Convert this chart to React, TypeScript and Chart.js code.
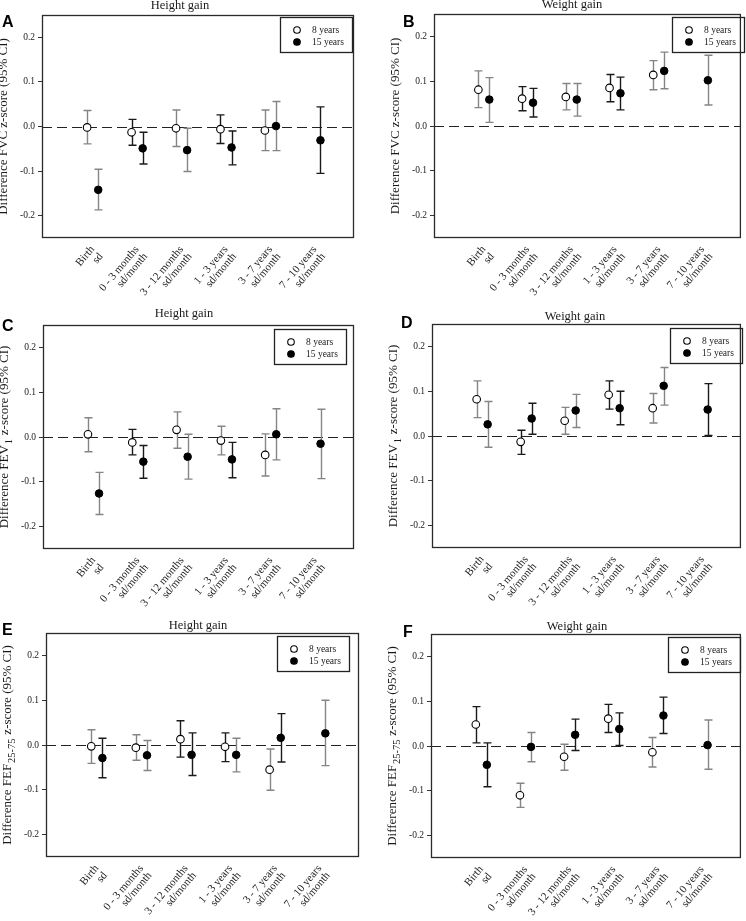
import React, { useEffect, useRef } from "react";
import { Chart, registerables } from "chart.js";
Chart.register(...registerables);

// ---------- DATA ----------
const categories: string[][] = [
  ["Birth", "sd"],
  ["0 - 3 months", "sd/month"],
  ["3 - 12 months", "sd/month"],
  ["1 - 3 years", "sd/month"],
  ["3 - 7 years", "sd/month"],
  ["7 - 10 years", "sd/month"],
];
const yTicks = [-0.2, -0.1, 0.0, 0.1, 0.2];
const seriesNames = ["8 years", "15 years"];

// [estimate, lower 95% CI, upper 95% CI]
type CI = [number, number, number] | null;

const fvcHeight8: CI[] = [[-0.002, -0.039, 0.036], [-0.013, -0.042, 0.016], [-0.004, -0.045, 0.037], [-0.006, -0.038, 0.026], [-0.009, -0.054, 0.037], null];
const fvcHeight15: CI[] = [[-0.142, -0.187, -0.096], [-0.049, -0.084, -0.013], [-0.053, -0.101, -0.004], [-0.047, -0.086, -0.01], [0.001, -0.054, 0.056], [-0.031, -0.105, 0.044]];

const fvcWeight8: CI[] = [[0.081, 0.041, 0.123], [0.061, 0.034, 0.088], [0.065, 0.036, 0.095], [0.085, 0.054, 0.115], [0.114, 0.081, 0.146], null];
const fvcWeight15: CI[] = [[0.059, 0.008, 0.108], [0.052, 0.02, 0.084], [0.059, 0.022, 0.095], [0.073, 0.036, 0.109], [0.123, 0.083, 0.165], [0.102, 0.047, 0.158]];

const fev1Height8: CI[] = [[0.006, -0.033, 0.043], [-0.012, -0.04, 0.017], [0.016, -0.025, 0.056], [-0.008, -0.04, 0.024], [-0.04, -0.087, 0.007], null];
const fev1Height15: CI[] = [[-0.126, -0.173, -0.079], [-0.055, -0.092, -0.019], [-0.044, -0.094, 0.006], [-0.05, -0.091, -0.012], [0.006, -0.051, 0.063], [-0.015, -0.093, 0.062]];

const fev1Weight8: CI[] = [[0.082, 0.041, 0.123], [-0.013, -0.041, 0.013], [0.034, 0.004, 0.064], [0.092, 0.06, 0.123], [0.062, 0.029, 0.095], null];
const fev1Weight15: CI[] = [[0.026, -0.025, 0.077], [0.039, 0.004, 0.073], [0.057, 0.019, 0.093], [0.062, 0.025, 0.1], [0.112, 0.069, 0.153], [0.059, 0.001, 0.117]];

const fefHeight8: CI[] = [[-0.003, -0.041, 0.034], [-0.006, -0.034, 0.023], [0.013, -0.027, 0.054], [-0.004, -0.037, 0.027], [-0.055, -0.101, -0.009], null];
const fefHeight15: CI[] = [[-0.029, -0.073, 0.015], [-0.023, -0.057, 0.01], [-0.022, -0.068, 0.027], [-0.022, -0.06, 0.015], [0.016, -0.038, 0.07], [0.026, -0.046, 0.1]];

const fefWeight8: CI[] = [[0.048, 0.007, 0.088], [-0.11, -0.137, -0.083], [-0.024, -0.054, 0.004], [0.061, 0.03, 0.093], [-0.014, -0.047, 0.019], null];
const fefWeight15: CI[] = [[-0.042, -0.091, 0.007], [-0.002, -0.035, 0.03], [0.025, -0.01, 0.06], [0.038, 0.001, 0.074], [0.068, 0.028, 0.109], [0.002, -0.052, 0.058]];

// y-axis titles: [text, isSubscript]
const yTitleFVC: [string, boolean][] = [["Difference FVC z-score (95% CI)", false]];
const yTitleFEV1: [string, boolean][] = [["Difference FEV", false], ["1", true], [" z-score (95% CI)", false]];
const yTitleFEF: [string, boolean][] = [["Difference FEF", false], ["25-75", true], [" z-score (95% CI)", false]];

// ---------- LAYOUT / STYLE ----------
const SERIF = "'Liberation Serif', 'Times New Roman', serif";
const SANS = "'Liberation Sans', Arial, sans-serif";
const GRAY = "#858585";
const INK = "#1a1a1a";

type Panel = {
  letter: string; title: string; yTitle: [string, boolean][];
  s8: CI[]; s15: CI[];
  shade: string; // error-bar shade per (category, series): g = gray, b = black
  cx: number; cy: number; w: number; h: number;
  area: [number, number, number, number]; // left, top, right, bottom (canvas coords)
  titlePos: [number, number]; letterPos: [number, number];
  legend: [number, number]; // box left, top
};

const panels: Panel[] = [
  { letter: "A", title: "Height gain", yTitle: yTitleFVC, s8: fvcHeight8, s15: fvcHeight15, shade: "ggbbggbbgg-b",
    cx: 0, cy: 0, w: 373, h: 300, area: [42, 15, 354, 238], titlePos: [180, 6], letterPos: [2, 27], legend: [280, 17] },
  { letter: "B", title: "Weight gain", yTitle: yTitleFVC, s8: fvcWeight8, s15: fvcWeight15, shade: "ggbbggbbgg-g",
    cx: 373, cy: 0, w: 373, h: 300, area: [61, 14, 372, 238], titlePos: [199, 5], letterPos: [30, 27], legend: [299, 17] },
  { letter: "C", title: "Height gain", yTitle: yTitleFEV1, s8: fev1Height8, s15: fev1Height15, shade: "ggbbgggbgg-g",
    cx: 0, cy: 300, w: 373, h: 310, area: [43, 25, 354, 249], titlePos: [184, 14], letterPos: [2, 31], legend: [274, 29] },
  { letter: "D", title: "Weight gain", yTitle: yTitleFEV1, s8: fev1Weight8, s15: fev1Weight15, shade: "ggbbggbbgg-b",
    cx: 373, cy: 300, w: 373, h: 310, area: [59, 24, 371, 248], titlePos: [202, 17], letterPos: [28, 28], legend: [297, 28] },
  { letter: "E", title: "Height gain", yTitle: yTitleFEF, s8: fefHeight8, s15: fefHeight15, shade: "gbggbbbggb-g",
    cx: 0, cy: 610, w: 373, h: 311, area: [46, 23, 359, 247], titlePos: [198, 16], letterPos: [2, 25], legend: [277, 26] },
  { letter: "F", title: "Weight gain", yTitle: yTitleFEF, s8: fefWeight8, s15: fefWeight15, shade: "bbgggbbbgb-g",
    cx: 373, cy: 610, w: 373, h: 311, area: [58, 24, 369, 248], titlePos: [204, 17], letterPos: [30, 27], legend: [295, 27] },
];

const OFFSET = 0.125;

function toPoints(s: CI[], off: number, series: number) {
  const out: any[] = [];
  s.forEach((v, i) => {
    if (v) out.push({ x: i + 1 + off, y: v[0], lo: v[1], hi: v[2], cat: i, series });
  });
  return out;
}

function drawYTitle(ctx: CanvasRenderingContext2D, parts: [string, boolean][], x: number, yMid: number) {
  const size = 13;
  const sub = 10.5;
  ctx.save();
  ctx.translate(x, yMid);
  ctx.rotate(-Math.PI / 2);
  ctx.fillStyle = INK;
  ctx.textBaseline = "middle";
  ctx.textAlign = "left";
  let total = 0;
  const widths = parts.map(([t, s]) => {
    ctx.font = `${s ? sub : size}px ${SERIF}`;
    const w = ctx.measureText(t).width + (s ? 1.5 : 0);
    total += w;
    return w;
  });
  let pos = -total / 2;
  parts.forEach(([t, s], i) => {
    ctx.font = `${s ? sub : size}px ${SERIF}`;
    ctx.fillText(t, pos + (s ? 1 : 0), s ? 4 : 0);
    pos += widths[i];
  });
  ctx.restore();
}

function makeDecor(p: Panel) {
  return {
    id: "decor" + p.letter,
    beforeDatasetsDraw(chart: any) {
      const { ctx, chartArea: a, scales } = chart;
      const x = scales.x, y = scales.y;
      ctx.save();
      // zero reference line
      const y0 = Math.round(y.getPixelForValue(0)) + 0.5;
      ctx.strokeStyle = "#222";
      ctx.lineWidth = 1;
      ctx.setLineDash([10, 5]);
      ctx.beginPath();
      ctx.moveTo(a.left, y0);
      ctx.lineTo(a.right, y0);
      ctx.stroke();
      ctx.setLineDash([]);
      // error bars
      chart.data.datasets.forEach((ds: any) => {
        ds.data.forEach((pt: any) => {
          const px = Math.round(x.getPixelForValue(pt.x)) + 0.5;
          const pl = y.getPixelForValue(pt.lo);
          const ph = y.getPixelForValue(pt.hi);
          const code = p.shade[pt.cat * 2 + pt.series];
          ctx.strokeStyle = code === "b" ? INK : GRAY;
          ctx.lineWidth = 1.4;
          ctx.beginPath();
          ctx.moveTo(px, pl); ctx.lineTo(px, ph);
          ctx.moveTo(px - 4, pl); ctx.lineTo(px + 4, pl);
          ctx.moveTo(px - 4, ph); ctx.lineTo(px + 4, ph);
          ctx.stroke();
        });
      });
      ctx.restore();
    },
    afterDraw(chart: any) {
      const { ctx, chartArea: a } = chart;
      ctx.save();
      // frame
      ctx.strokeStyle = "#2a2a2a";
      ctx.lineWidth = 1.3;
      ctx.strokeRect(a.left + 0.5, a.top + 0.5, a.right - a.left - 1, a.bottom - a.top - 1);
      // title
      ctx.fillStyle = INK;
      ctx.font = `12.5px ${SERIF}`;
      ctx.textAlign = "center";
      ctx.textBaseline = "middle";
      ctx.fillText(p.title, p.titlePos[0], p.titlePos[1]);
      // panel letter
      ctx.font = `bold 16px ${SANS}`;
      ctx.textAlign = "left";
      ctx.textBaseline = "alphabetic";
      ctx.fillStyle = "#000";
      ctx.fillText(p.letter, p.letterPos[0], p.letterPos[1]);
      // y title
      drawYTitle(ctx, p.yTitle, a.left - 38, (a.top + a.bottom) / 2);
      // legend
      const [lx, ly] = p.legend;
      ctx.strokeStyle = "#222";
      ctx.lineWidth = 1.3;
      ctx.strokeRect(lx + 0.5, ly + 0.5, 72, 35);
      ctx.font = `9.5px ${SERIF}`;
      ctx.textBaseline = "middle";
      seriesNames.forEach((name, i) => {
        const cyy = ly + 13 + i * 12;
        ctx.beginPath();
        ctx.arc(lx + 17, cyy, 3.3, 0, Math.PI * 2);
        ctx.fillStyle = i === 0 ? "#fff" : "#000";
        ctx.fill();
        ctx.strokeStyle = "#000";
        ctx.lineWidth = 1.1;
        ctx.stroke();
        ctx.fillStyle = INK;
        ctx.fillText(name, lx + 32, cyy);
      });
      ctx.restore();
    },
  };
}

function PanelChart({ p }: { p: Panel }) {
  const ref = useRef<HTMLCanvasElement>(null);
  useEffect(() => {
    if (!ref.current) return;
    const [left, top, right, bottom] = p.area;
    const chart = new Chart(ref.current, {
      type: "scatter",
      data: {
        datasets: [
          {
            label: seriesNames[0],
            data: toPoints(p.s8, -OFFSET, 0),
            pointRadius: 3.8,
            pointBackgroundColor: "#fff",
            pointBorderColor: "#000",
            pointBorderWidth: 1.1,
            showLine: false,
          },
          {
            label: seriesNames[1],
            data: toPoints(p.s15, OFFSET, 1),
            pointRadius: 3.8,
            pointBackgroundColor: "#000",
            pointBorderColor: "#000",
            pointBorderWidth: 1,
            showLine: false,
          },
        ],
      },
      options: {
        animation: false,
        responsive: false,
        maintainAspectRatio: false,
        events: [],
        layout: { padding: { left: 0, top: top, right: p.w - right, bottom: 0 } },
        plugins: { legend: { display: false }, tooltip: { enabled: false } },
        scales: {
          x: {
            type: "linear",
            min: -0.14,
            max: 6.88,
            grid: { display: false },
            border: { display: false },
            afterBuildTicks: (s: any) => {
              s.ticks = categories.map((_, i) => ({ value: i + 1 }));
            },
            afterFit: (s: any) => {
              s.height = p.h - bottom;
            },
            ticks: {
              autoSkip: false,
              minRotation: 50,
              maxRotation: 50,
              padding: -2,
              color: INK,
              font: { family: SERIF, size: 11, lineHeight: 1.0 },
              callback: (v: any) => categories[Math.round(v) - 1] ?? "",
            },
          },
          y: {
            type: "linear",
            min: -0.25,
            max: 0.25,
            afterBuildTicks: (s: any) => {
              s.ticks = yTicks.map((v) => ({ value: v }));
            },
            afterFit: (s: any) => {
              s.width = left;
            },
            grid: { drawOnChartArea: false, drawTicks: true, tickLength: 4, color: "#333" },
            border: { display: false },
            ticks: {
              padding: 3,
              color: INK,
              font: { family: SERIF, size: 9.5 },
              callback: (v: any) => Number(v).toFixed(1),
            },
          },
        },
      } as any,
      plugins: [makeDecor(p)],
    });
    return () => chart.destroy();
  }, [p]);
  return (
    <canvas
      ref={ref}
      width={p.w}
      height={p.h}
      style={{ position: "absolute", left: p.cx, top: p.cy, width: p.w, height: p.h, display: "block" }}
    />
  );
}

export default function App() {
  return (
    <div style={{ position: "absolute", left: 0, top: 0, width: 746, height: 921, background: "#fff" }}>
      {panels.map((p) => (
        <PanelChart key={p.letter} p={p} />
      ))}
    </div>
  );
}
